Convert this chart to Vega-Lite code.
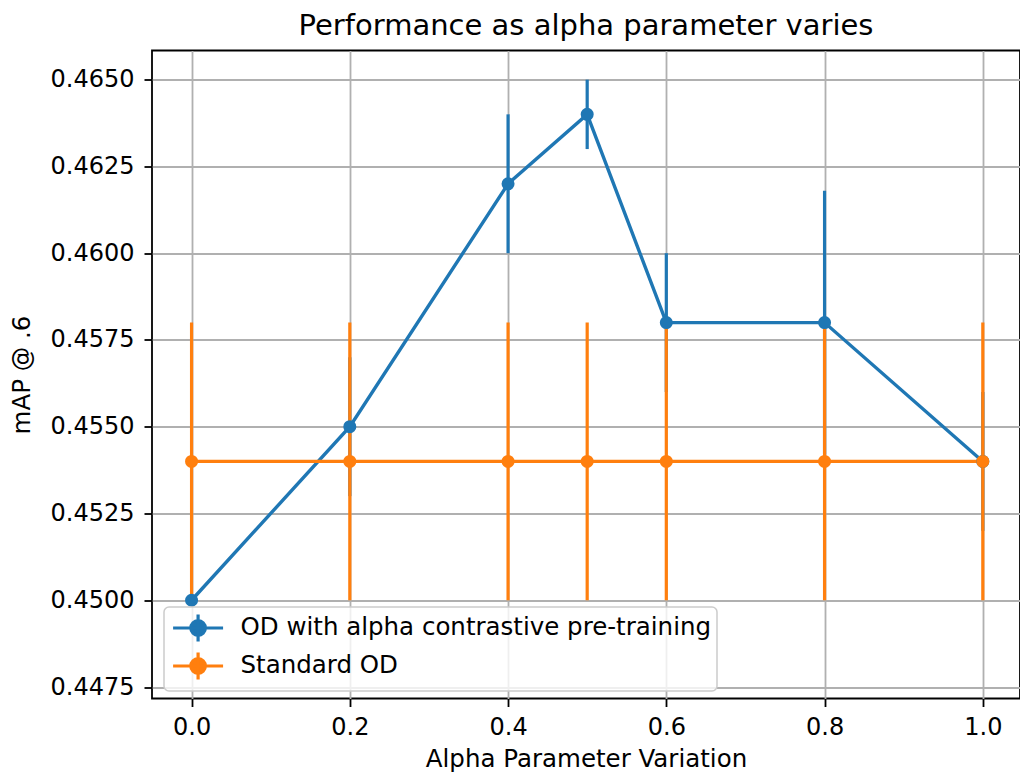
{
  "$schema": "https://vega.github.io/schema/vega-lite/v6.json",
  "width": 868,
  "height": 648,
  "autosize": {"type": "none"},
  "padding": {"left": 152, "top": 50.5, "right": 0, "bottom": 74.5},
  "background": "white",
  "title": {
    "text": "Performance as alpha parameter varies",
    "font": "DejaVu Sans",
    "fontSize": 29,
    "fontWeight": "normal",
    "color": "#000000",
    "anchor": "middle",
    "frame": "group",
    "baseline": "alphabetic",
    "offset": 16,
    "dy": 29
  },
  "config": {
    "view": {"stroke": "#000000", "strokeWidth": 1.8},
    "axis": {
      "labelFont": "DejaVu Sans",
      "labelFontSize": 24,
      "labelColor": "#000000",
      "titleFont": "DejaVu Sans",
      "titleFontSize": 24.5,
      "titleFontWeight": "normal",
      "titleColor": "#000000",
      "tickColor": "#000000",
      "tickWidth": 1.8,
      "tickSize": 8,
      "domain": false,
      "grid": true,
      "gridColor": "#b0b0b0",
      "gridWidth": 1.8,
      "gridOpacity": 1,
      "labelFlush": false,
      "labelOverlap": false
    },
    "legend": {
      "orient": "none",
      "legendX": 12,
      "legendY": 556.5,
      "padding": 5,
      "fillColor": "rgba(255,255,255,0.8)",
      "strokeColor": "#cccccc",
      "strokeWidth": 1.5,
      "cornerRadius": 5,
      "labelFont": "DejaVu Sans",
      "labelFontSize": 24.5,
      "labelColor": "#000000",
      "labelLimit": 700,
      "symbolType": "M-0.85,0H2.72M0.935,-0.964V0.964M1.455,0A0.52,0.52 0 1,1 0.415,0A0.52,0.52 0 1,1 1.455,0Z",
      "symbolSize": 784,
      "symbolStrokeWidth": 3.2,
      "labelOffset": 39.5,
      "rowPadding": -2
    }
  },
  "data": {
    "values": [
      {"series": "OD with alpha contrastive pre-training", "alpha": 0.0, "map": 0.4500, "lo": 0.4500, "hi": 0.4500},
      {"series": "OD with alpha contrastive pre-training", "alpha": 0.2, "map": 0.4550, "lo": 0.4530, "hi": 0.4570},
      {"series": "OD with alpha contrastive pre-training", "alpha": 0.4, "map": 0.4620, "lo": 0.4600, "hi": 0.4640},
      {"series": "OD with alpha contrastive pre-training", "alpha": 0.5, "map": 0.4640, "lo": 0.4630, "hi": 0.4650},
      {"series": "OD with alpha contrastive pre-training", "alpha": 0.6, "map": 0.4580, "lo": 0.4560, "hi": 0.4600},
      {"series": "OD with alpha contrastive pre-training", "alpha": 0.8, "map": 0.4580, "lo": 0.4542, "hi": 0.4618},
      {"series": "OD with alpha contrastive pre-training", "alpha": 1.0, "map": 0.4540, "lo": 0.4520, "hi": 0.4560},
      {"series": "Standard OD", "alpha": 0.0, "map": 0.4540, "lo": 0.4500, "hi": 0.4580},
      {"series": "Standard OD", "alpha": 0.2, "map": 0.4540, "lo": 0.4500, "hi": 0.4580},
      {"series": "Standard OD", "alpha": 0.4, "map": 0.4540, "lo": 0.4500, "hi": 0.4580},
      {"series": "Standard OD", "alpha": 0.5, "map": 0.4540, "lo": 0.4500, "hi": 0.4580},
      {"series": "Standard OD", "alpha": 0.6, "map": 0.4540, "lo": 0.4500, "hi": 0.4580},
      {"series": "Standard OD", "alpha": 0.8, "map": 0.4540, "lo": 0.4500, "hi": 0.4580},
      {"series": "Standard OD", "alpha": 1.0, "map": 0.4540, "lo": 0.4500, "hi": 0.4580}
    ]
  },
  "encoding": {
    "x": {
      "field": "alpha",
      "type": "quantitative",
      "scale": {"domain": [-0.05, 1.047], "nice": false, "zero": false},
      "axis": {
        "values": [0, 0.2, 0.4, 0.6, 0.8, 1.0],
        "format": ".1f",
        "labelPadding": 9,
        "title": "Alpha Parameter Variation",
        "titlePadding": 8
      }
    },
    "color": {
      "field": "series",
      "type": "nominal",
      "scale": {
        "domain": ["OD with alpha contrastive pre-training", "Standard OD"],
        "range": ["#1f77b4", "#ff7f0e"]
      },
      "legend": {
        "title": null,
        "encode": {
          "symbols": {
            "update": {
              "stroke": {"scale": "color", "field": "value"},
              "fill": {"scale": "color", "field": "value"},
              "strokeWidth": {"value": 3.2},
              "opacity": {"value": 1}
            }
          }
        }
      }
    }
  },
  "layer": [
    {
      "mark": {"type": "rule", "strokeWidth": 3.2},
      "encoding": {
        "y": {
          "field": "lo",
          "type": "quantitative",
          "scale": {"domain": [0.447169, 0.46584], "nice": false, "zero": false},
          "axis": {
            "values": [0.4475, 0.45, 0.4525, 0.455, 0.4575, 0.46, 0.4625, 0.465],
            "format": ".4f",
            "labelPadding": 10,
            "title": "mAP @ .6",
            "titlePadding": 16
          }
        },
        "y2": {"field": "hi"}
      }
    },
    {
      "mark": {"type": "line", "strokeWidth": 3.4},
      "encoding": {
        "y": {"field": "map", "type": "quantitative"}
      }
    },
    {
      "mark": {"type": "point", "filled": true, "size": 170, "opacity": 1},
      "encoding": {
        "y": {"field": "map", "type": "quantitative"}
      }
    }
  ]
}
